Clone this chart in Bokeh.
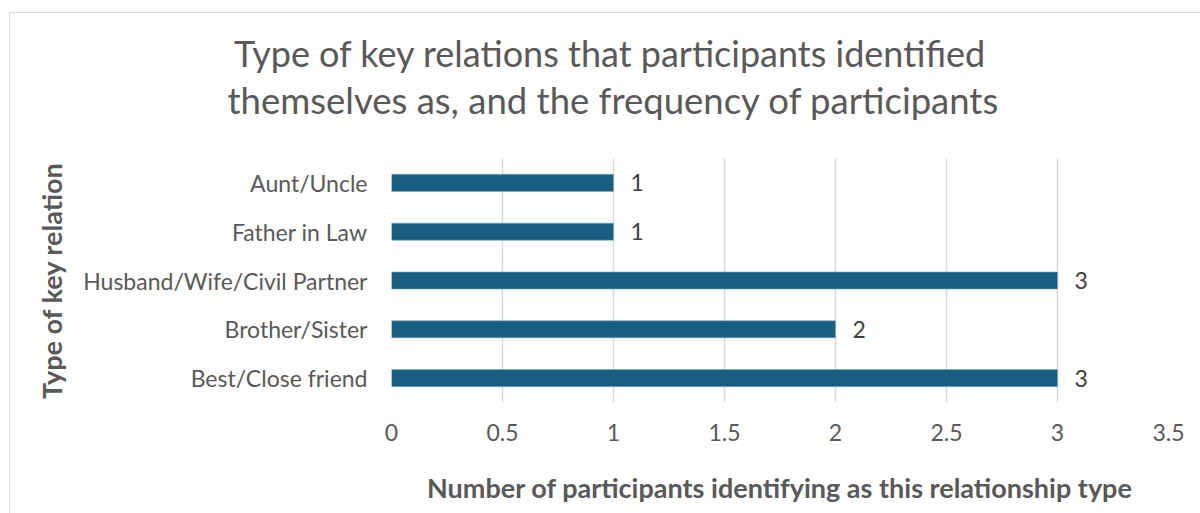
from bokeh.plotting import figure
from bokeh.models import FactorRange, Range1d, Title, FixedTicker, ColumnDataSource
from bokeh.core.properties import value
from bokeh.embed import file_html
from bokeh.resources import INLINE

categories = ["Best/Close friend", "Brother/Sister", "Husband/Wife/Civil Partner",
              "Father in Law", "Aunt/Uncle"]
counts = [3, 2, 3, 1, 1]
x_ticks = [0, 0.5, 1, 1.5, 2, 2.5, 3, 3.5]
title_lines = ["Type of key relations that participants identified",
               "themselves as, and the frequency of participants"]
x_title = "Number of participants identifying as this relationship type"
y_title = "Type of key relation"

FONT = "Lato"
GREY = "#595959"

src = ColumnDataSource(dict(cat=categories, n=counts, lbl=[str(c) for c in counts]))

p = figure(width=1191, height=501, output_backend="svg", toolbar_location=None,
           y_range=FactorRange(factors=categories), x_range=Range1d(0, 3.5),
           min_border_left=381, min_border_right=33, min_border_top=145,
           min_border_bottom=112)
p.margin = (12, 0, 0, 9)
p.styles = {"border-left": "1px solid #d9d9d9", "border-top": "1px solid #d9d9d9"}
p.outline_line_color = None
p.background_fill_color = "white"
p.border_fill_color = "white"

p.hbar(y="cat", right="n", left=0, height=0.35, source=src,
       fill_color="#185e80", line_color="#7fa6bb", line_width=0.6)
p.text(x="n", y="cat", text="lbl", source=src, x_offset=17,
       text_baseline="middle", text_align="left", text_font=value(FONT),
       text_font_size="23px", text_color="#404040")

p.xaxis.ticker = FixedTicker(ticks=x_ticks)
p.xaxis.axis_line_color = None
p.xaxis.major_tick_line_color = None
p.xaxis.minor_tick_line_color = None
p.xaxis.major_label_text_font = FONT
p.xaxis.major_label_text_font_size = "23px"
p.xaxis.major_label_text_color = GREY
p.xaxis.major_label_standoff = 15
p.xaxis.axis_label = x_title
p.xaxis.axis_label_text_font = FONT
p.xaxis.axis_label_text_font_size = "27px"
p.xaxis.axis_label_text_font_style = "bold"
p.xaxis.axis_label_text_color = GREY
p.xaxis.axis_label_standoff = 27

p.yaxis.axis_line_color = None
p.yaxis.major_tick_line_color = None
p.yaxis.minor_tick_line_color = None
p.yaxis.major_label_text_font = FONT
p.yaxis.major_label_text_font_size = "23px"
p.yaxis.major_label_text_color = GREY
p.yaxis.major_label_standoff = 18
p.yaxis.axis_label = y_title
p.yaxis.axis_label_text_font = FONT
p.yaxis.axis_label_text_font_size = "27px"
p.yaxis.axis_label_text_font_style = "bold"
p.yaxis.axis_label_text_color = GREY
p.yaxis.axis_label_standoff = 12

p.ygrid.grid_line_color = None
p.xgrid.grid_line_color = "#d9d9d9"
p.xgrid.grid_line_width = 1.5

# Titles stacked above the frame: spacer nearest the plot, then line 2, then line 1.
spacer = Title(text=" ", text_font=FONT, text_font_size="1px", standoff=34)
t2 = Title(text=title_lines[1], align="left", offset=-164, standoff=0,
           text_font=FONT, text_font_size="36.5px", text_color=GREY,
           text_font_style="normal")
t1 = Title(text=title_lines[0], align="left", offset=-157.5, standoff=1,
           text_font=FONT, text_font_size="36px", text_color=GREY,
           text_font_style="normal")
p.add_layout(spacer, "above")
p.add_layout(t2, "above")
p.add_layout(t1, "above")

open("out.html", "w").write(file_html(p, INLINE))
